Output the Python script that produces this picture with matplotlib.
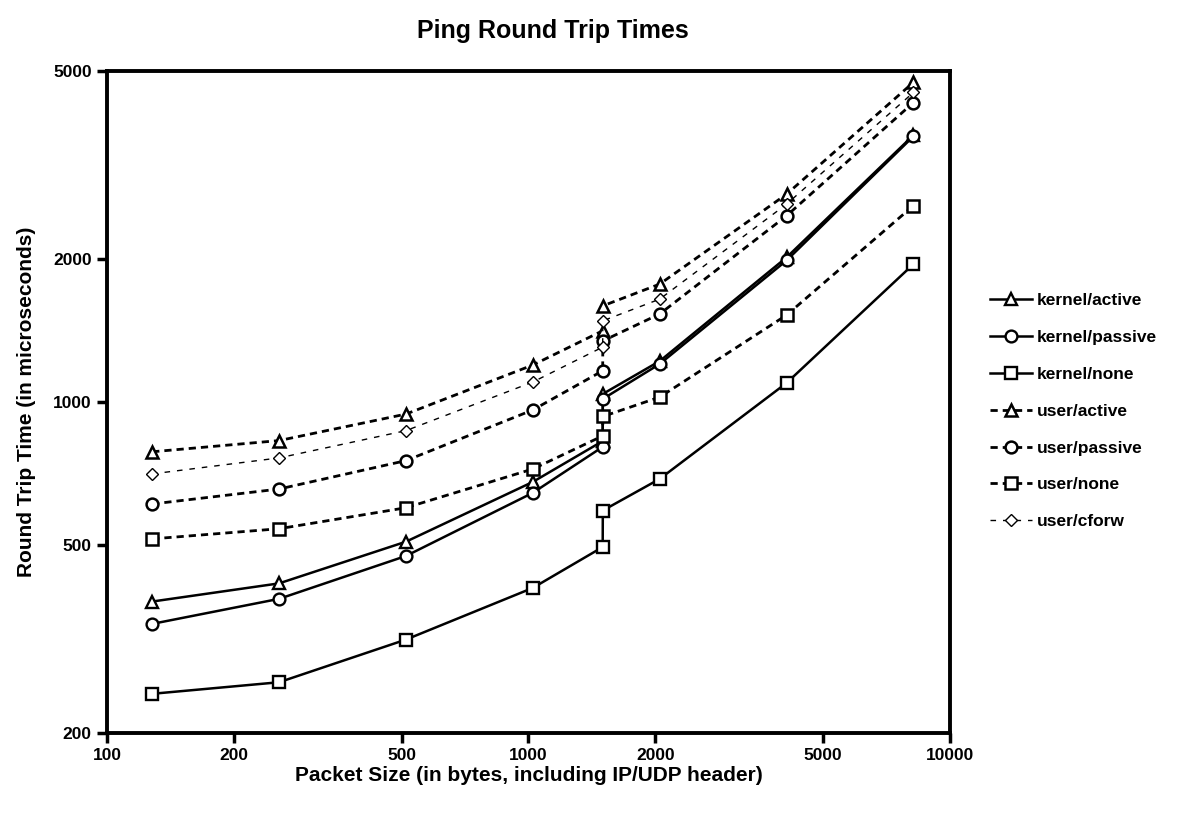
import numpy as np
import matplotlib.pyplot as plt

plt.rcParams['font.family'] = ['Liberation Sans', 'DejaVu Sans']
plt.rcParams['font.weight'] = 'bold'

# packet sizes (bytes); 1500 appears twice (just below / above fragmentation)
sizes = [128, 256, 512, 1024, 1500, 1501, 2048, 4096, 8192]

kernel_active = [379, 414, 507, 678, 827, 1040, 1220, 2020, 3660]
kernel_passive = [340, 384, 473, 643, 804, 1015, 1203, 1990, 3640]
kernel_none = [242, 256, 315, 405, 494, 590, 688, 1097, 1955]
user_active = [785, 829, 943, 1197, 1414, 1596, 1774, 2747, 4733]
user_passive = [609, 655, 752, 962, 1164, 1346, 1534, 2473, 4289]
user_none = [514, 540, 598, 722, 848, 932, 1024, 1526, 2598]
user_cforw = [705, 762, 870, 1102, 1306, 1484, 1649, 2617, 4505]

xticks = [100, 200, 500, 1000, 2000, 5000, 10000]
yticks = [200, 500, 1000, 2000, 5000]

fig = plt.figure(figsize=(11.77, 8.16), dpi=100)
ax = fig.add_axes([0.0909, 0.1017, 0.7162, 0.8113])

solid = dict(color='black', lw=1.8, mfc='white', mec='black', mew=1.7, ms=8.5)
dashed = dict(color='black', lw=2.0, ls=(0, (2.6, 1.8)), mfc='white', mec='black', mew=1.8, ms=8.5)

ax.plot(sizes, kernel_active, marker='^', label='kernel/active', **solid)
ax.plot(sizes, kernel_passive, marker='o', label='kernel/passive', **solid)
ax.plot(sizes, kernel_none, marker='s', label='kernel/none', **solid)
ax.plot(sizes, user_active, marker='^', label='user/active', **dashed)
ax.plot(sizes, user_passive, marker='o', label='user/passive', **dashed)
ax.plot(sizes, user_none, marker='s', label='user/none', **dashed)
ax.plot(sizes, user_cforw, marker='D', label='user/cforw', color='black', lw=1.0,
        ls=(0, (4, 5)), mfc='white', mec='black', mew=1.0, ms=6.5)

ax.set_xscale('log')
ax.set_yscale('log')
ax.set_xlim(100, 10000)
ax.set_ylim(200, 5000)
ax.set_xticks(xticks)
ax.set_xticklabels([str(t) for t in xticks])
ax.set_yticks(yticks)
ax.set_yticklabels([str(t) for t in yticks])
ax.minorticks_off()
ax.tick_params(axis='both', which='major', direction='out', length=7, width=2.5,
               labelsize=12.5, pad=4)
for lab in ax.get_xticklabels() + ax.get_yticklabels():
    lab.set_fontweight('bold')
for sp in ax.spines.values():
    sp.set_linewidth(2.8)

ax.set_xlabel('Packet Size (in bytes, including IP/UDP header)', fontsize=15,
              fontweight='bold', labelpad=2)
ax.set_ylabel('Round Trip Time (in microseconds)', fontsize=15, fontweight='bold',
              labelpad=12)
fig.text(0.47, 0.962, 'Ping Round Trip Times', ha='center', va='center',
         fontsize=18, fontweight='bold')

leg = fig.legend(loc='upper left', bbox_to_anchor=(0.828, 0.66), frameon=False,
                 fontsize=12.5, handlelength=2.4, handletextpad=0.3, labelspacing=1.25)
for t in leg.get_texts():
    t.set_fontweight('bold')

fig.savefig('out.png', dpi=100)
